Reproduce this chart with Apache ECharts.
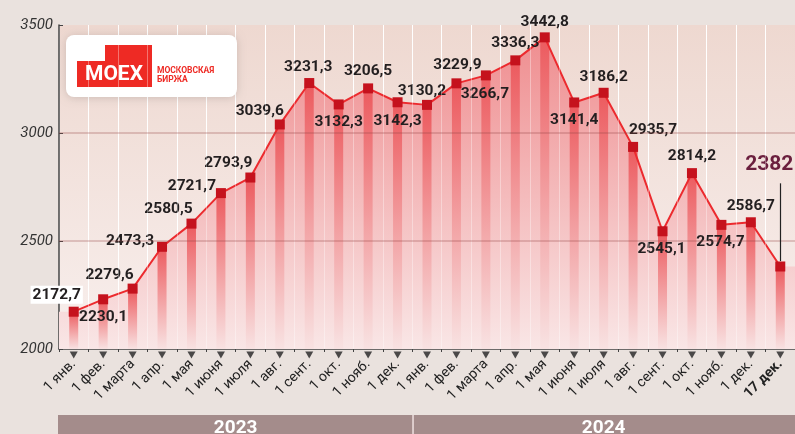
<!DOCTYPE html>
<html>
<head>
<meta charset="utf-8">
<script src="https://cdn.jsdelivr.net/npm/echarts@6/dist/echarts.min.js"></script>
<style>
  html, body { margin: 0; padding: 0; background: #eae2de; }
  #chart { width: 795px; height: 434px; }
</style>
</head>
<body>
<div id="chart"></div>
<script>
// индекс МосБиржи на первое число месяца
const months = ['1 янв.', '1 фев.', '1 марта', '1 апр.', '1 мая', '1 июня', '1 июля', '1 авг.', '1 сент.', '1 окт.', '1 нояб.', '1 дек.',
  '1 янв.', '1 фев.', '1 марта', '1 апр.', '1 мая', '1 июня', '1 июля', '1 авг.', '1 сент.', '1 окт.', '1 нояб.', '1 дек.', '17 дек.']
const values = [2172.7, 2230.1, 2279.6, 2473.3, 2580.5, 2721.7, 2793.9, 3039.6, 3231.3, 3132.3, 3206.5, 3142.3,
  3130.2, 3229.9, 3266.7, 3336.3, 3442.8, 3141.4, 3186.2, 2935.7, 2545.1, 2814.2, 2574.7, 2586.7, 2382]
const years = ['2023', '2024']
const yearSplit = 12 // первый индекс 2024 года
const yTicks = [2000, 2500, 3000, 3500]

// сдвиги подписей относительно точки (px)
const labelOffsets = [
  [-17, -17], [0, 18], [-23, -13], [-32, -6], [-23, -14], [-29, -7], [-22, -14], [-20, -13], [-1, -16], [0, 18], [0, -17], [0, 19],
  [-5, -14], [1, -18], [-1, 19], [0, -17], [0, -15], [0, 18], [0, -16], [20, -17], [-1, 18], [0, -17], [-1, 17], [0, -16], [-11, -102],
]

const FONT = "'Liberation Sans Narrow', Roboto, sans-serif"
const last = values.length - 1
const fmt = (v) => String(v).replace('.', ',')

const chart = echarts.init(document.getElementById('chart'))

const lineData = values.map((v, i) => {
  const item = {
    value: v,
    label: { offset: labelOffsets[i] },
  }
  if (i === 0) {
    item.label.backgroundColor = '#fff'
    item.label.padding = [1, 2]
  }
  if (i === last) {
    item.label.color = '#6b1f3e'
    item.label.fontSize = 21
  }
  return item
})

const areaData = [[-0.5, values[0]]]
  .concat(values.map((v, i) => [i, v]))
  .concat([[last + 0.5, values[last]]])

// белые вертикальные линии между месяцами (поверх заливки)
const bandLines = values.slice(0, last).map((v, i) => ({ xAxis: i + 0.5 }))

const gridLine = { color: 'rgba(150,70,70,0.35)', width: 1.5, type: 'solid' }

const option = {
  backgroundColor: '#eae2de',
  animation: false,
  textStyle: { fontFamily: FONT },
  grid: {
    left: 59,
    top: 25,
    width: 737.5,
    height: 324,
    show: true,
    borderWidth: 0,
    backgroundColor: new echarts.graphic.LinearGradient(0, 0, 0, 1, [
      { offset: 0, color: '#eed8d0' },
      { offset: 1, color: '#f8efed' },
    ]),
  },
  xAxis: [
    {
      type: 'category',
      data: months,
      boundaryGap: true,
      axisLine: { lineStyle: { color: '#444', width: 1.5 } },
      axisTick: { show: true, length: 3, lineStyle: { color: '#444' } },
      splitLine: { show: true, lineStyle: { color: '#ffffff', width: 1 } },
      axisLabel: {
        rotate: 45,
        margin: 13,
        fontSize: 14,
        color: '#222',
        fontFamily: FONT,
        interval: 0,
        formatter: (val, idx) => (idx === last ? '{b|' + val + '}' : val),
        rich: { b: { fontWeight: 'bold', fontSize: 14, color: '#222', fontFamily: FONT } },
      },
    },
    {
      type: 'value',
      min: -0.5,
      max: last + 0.5,
      show: false,
    },
  ],
  yAxis: {
    type: 'value',
    min: 2000,
    max: 3500,
    interval: 500,
    axisLine: { show: true, onZero: false, lineStyle: { color: '#444', width: 1.5 } },
    axisTick: { show: true, inside: true, length: 4, lineStyle: { color: '#444' } },
    splitLine: { show: false },
    axisLabel: {
      margin: 6,
      fontSize: 15,
      fontStyle: 'italic',
      color: '#333',
      fontFamily: FONT,
      formatter: (v) => (yTicks.includes(v) ? String(v) : ''),
    },
  },
  series: [
    {
      // заливка под линией
      type: 'line',
      xAxisIndex: 1,
      data: areaData,
      symbol: 'none',
      lineStyle: { width: 0 },
      areaStyle: {
        color: new echarts.graphic.LinearGradient(0, 0, 0, 1, [
          { offset: 0, color: '#ef8e90' },
          { offset: 1, color: '#f9e6e6' },
        ]),
        opacity: 1,
      },
      markLine: {
        silent: true,
        symbol: 'none',
        label: { show: false },
        lineStyle: { color: 'rgba(255,255,255,0.35)', width: 1, type: 'solid' },
        data: bandLines,
      },
      z: 1,
      silent: true,
    },
    {
      type: 'bar',
      data: values,
      barWidth: 9,
      itemStyle: {
        color: new echarts.graphic.LinearGradient(0, 0, 0, 1, [
          { offset: 0, color: '#ec5a5e' },
          { offset: 1, color: '#f8e2e2' },
        ]),
      },
      z: 2,
      silent: true,
    },
    {
      type: 'line',
      data: lineData,
      symbol: 'rect',
      symbolSize: 10,
      itemStyle: { color: '#c5121d' },
      lineStyle: { color: '#ec2a2e', width: 2 },
      label: {
        show: true,
        position: 'inside',
        fontSize: 15.5,
        fontWeight: 'bold',
        color: '#231f20',
        fontFamily: FONT,
        formatter: (p) => fmt(p.value),
      },
      markLine: {
        silent: true,
        symbol: 'none',
        label: { show: false },
        data: [
          { yAxis: 2500, lineStyle: gridLine },
          { yAxis: 3000, lineStyle: gridLine },
          [
            { coord: [last, values[last] + 25], lineStyle: { color: '#222', width: 1.2, type: 'solid' } },
            { coord: [last, values[last] + 385] },
          ],
        ],
      },
      z: 4,
    },
    {
      // треугольные засечки под осью
      type: 'scatter',
      data: values.map(() => 2000),
      symbol: 'triangle',
      symbolRotate: 180,
      symbolSize: [8, 7],
      symbolOffset: [0, 6],
      itemStyle: { color: '#222' },
      clip: false,
      silent: true,
      z: 5,
    },
  ],
}

chart.setOption(option)

// полоса с годами и логотип
const x0 = chart.convertToPixel({ xAxisIndex: 1 }, -0.5)
const xMid = chart.convertToPixel({ xAxisIndex: 1 }, yearSplit - 0.5)
const x1 = chart.convertToPixel({ xAxisIndex: 1 }, last + 0.5)

chart.setOption({
  graphic: [
    { type: 'rect', shape: { x: x0 - 1, y: 415, width: x1 - x0 + 1, height: 25 }, style: { fill: '#a48c8b' } },
    { type: 'rect', shape: { x: xMid, y: 415, width: 1.5, height: 25 }, style: { fill: '#efe1e0' } },
    { type: 'text', x: (x0 + xMid) / 2, y: 419, style: { text: years[0], fill: '#fff', font: 'bold 19px ' + FONT, textAlign: 'center', textVerticalAlign: 'top' } },
    { type: 'text', x: (xMid + x1) / 2, y: 419, style: { text: years[1], fill: '#fff', font: 'bold 19px ' + FONT, textAlign: 'center', textVerticalAlign: 'top' } },
    {
      type: 'group',
      children: [
        { type: 'rect', shape: { x: 66, y: 35, width: 171, height: 62, r: 8 }, style: { fill: '#fff', shadowBlur: 8, shadowColor: 'rgba(0,0,0,0.15)', shadowOffsetY: 1 } },
        { type: 'rect', shape: { x: 105, y: 45, width: 47, height: 42 }, style: { fill: '#ee2a24' } },
        { type: 'rect', shape: { x: 77, y: 61, width: 75, height: 26 }, style: { fill: '#ee2a24' } },
        { type: 'text', x: 114, y: 74.5, style: { text: 'MOEX', fill: '#fff', font: 'bold 21px Roboto, sans-serif', textAlign: 'center', textVerticalAlign: 'middle' } },
        { type: 'text', x: 157, y: 71, style: { text: 'МОСКОВСКАЯ', fill: '#ee2a24', font: 'bold 8.5px Roboto, sans-serif', textVerticalAlign: 'middle' } },
        { type: 'text', x: 157, y: 79.5, style: { text: 'БИРЖА', fill: '#ee2a24', font: 'bold 8.5px Roboto, sans-serif', textVerticalAlign: 'middle' } },
      ],
    },
  ],
})
</script>
</body>
</html>
